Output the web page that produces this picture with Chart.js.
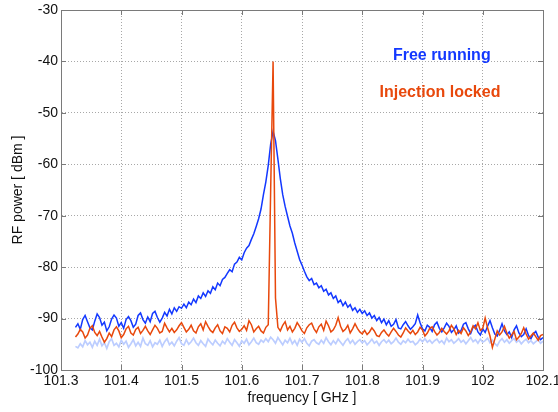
<!DOCTYPE html>
<html>
<head>
<meta charset="utf-8">
<script src="https://cdn.jsdelivr.net/npm/chart.js@4.4.1/dist/chart.umd.min.js"></script>
<style>
  body{margin:0;background:#fff}
  #wrap{width:558px;height:412px}
</style>
</head>
<body>
<div id="wrap"><canvas id="spectrum" width="558" height="412"></canvas></div>
<script>
// spectrum analyser sweep, one sample every 4 MHz from 101.324 GHz
var freqStart = 101.324
var freqStep = 0.004

var xTicks = [101.3, 101.4, 101.5, 101.6, 101.7, 101.8, 101.9, 102, 102.1]
var xTickLabels = ['101.3', '101.4', '101.5', '101.6', '101.7', '101.8', '101.9', '102', '102.1']
var yTicks = [-100, -90, -80, -70, -60, -50, -40, -30]

// free running (dBm)
var freeRunning = [
  -91.7, -91.0, -92.1, -90.2, -89.4, -90.6, -91.8, -92.2, -90.5, -89.1,
  -89.8, -91.3, -90.7, -92.4, -91.6, -90.1, -89.3, -89.9, -91.5, -90.8,
  -91.9, -90.2, -89.6, -90.4, -91.7, -91.1, -89.4, -88.9, -90.2, -90.9,
  -89.7, -90.6, -89.0, -88.6, -89.8, -90.7, -89.9, -88.8, -89.5, -88.2,
  -89.1, -87.9, -88.6, -87.7, -88.0, -87.2, -87.9, -86.8, -87.3, -86.2,
  -86.9, -85.6, -86.1, -85.0, -85.7, -84.6, -85.1, -83.8, -84.4, -83.1,
  -83.6, -82.4, -82.0, -81.2, -80.5, -80.9, -79.4, -79.0, -78.1, -78.6,
  -77.2, -76.3, -75.8, -74.6, -73.5, -72.1, -70.6, -68.7, -65.9, -63.4,
  -60.2, -56.1, -53.6, -55.4, -59.0, -62.8, -65.9, -68.2, -70.1, -72.0,
  -73.4, -75.3, -76.9, -78.5, -79.6, -80.8, -81.9, -82.6, -82.2, -83.4,
  -83.1, -84.0, -83.6, -84.7, -84.3, -85.4, -85.0, -86.1, -85.6, -86.9,
  -86.4, -87.5, -86.8, -87.8, -87.3, -88.4, -87.9, -88.8, -88.2, -89.0,
  -88.5, -89.4, -88.9, -89.9, -89.4, -90.4, -89.8, -90.8, -90.1, -91.2,
  -90.4, -91.5, -91.1, -90.2, -91.8, -92.0, -91.2, -90.6, -91.4, -92.1,
  -91.6, -91.0, -89.3, -90.8, -92.0, -92.4, -91.3, -91.7, -92.5, -91.2,
  -90.7, -91.9, -92.6, -91.8, -90.9, -91.5, -92.7, -92.2, -91.4, -92.8,
  -92.3, -91.1, -90.8, -92.0, -92.9, -91.7, -91.3, -92.6, -93.2, -92.0,
  -92.7, -91.5, -90.4, -91.8, -93.0, -93.4, -92.3, -91.0, -92.4, -93.1,
  -92.6, -93.7, -92.2, -91.4, -92.8, -93.5, -93.1, -92.0, -93.3, -93.9,
  -93.0, -92.5, -93.6, -94.1, -93.7
]

// injection locked (dBm)
var injectionLocked = [
  -93.6, -93.0, -92.1, -92.6, -93.8, -93.2, -91.9, -91.4, -92.7, -93.3,
  -92.5, -93.6, -94.6, -93.9, -92.8, -93.5, -92.2, -91.6, -92.4, -93.7,
  -93.1, -92.0, -91.5, -92.8, -93.2, -92.1, -91.7, -92.9, -92.3, -91.5,
  -92.4, -93.1, -92.2, -91.3, -91.9, -92.8, -92.5, -90.9, -91.8, -92.6,
  -91.9, -92.7, -92.2, -91.4, -90.8, -91.7, -92.6, -92.1, -91.3, -92.4,
  -92.8, -91.6, -91.0, -92.2, -90.6, -91.5, -92.3, -92.7, -91.8, -91.2,
  -92.4, -92.9, -91.6, -91.9, -92.6, -91.3, -90.7, -91.8, -92.5, -92.1,
  -91.4, -92.3, -90.4, -91.2, -92.6, -92.0, -91.5, -92.4, -92.8, -91.7,
  -91.2, -65.0, -40.0, -86.0, -91.7, -92.4, -91.3, -90.6, -92.2, -91.5,
  -92.6, -91.9, -90.8, -91.5, -92.4, -92.9, -91.8, -91.2, -90.9, -92.0,
  -92.7, -91.6, -91.1, -92.3, -90.5, -91.4, -92.6, -92.2, -91.3, -89.8,
  -91.5, -92.5, -92.1, -91.3, -92.8, -92.0, -91.0, -91.9, -92.6, -93.0,
  -92.3, -93.1, -92.6, -91.8, -92.4, -93.3, -93.5, -92.7, -92.2, -92.9,
  -93.4, -92.6, -91.9, -92.5, -93.2, -93.6, -92.8, -91.8, -92.4, -92.9,
  -92.3, -93.1, -92.6, -91.7, -92.2, -93.4, -92.8, -91.9, -91.6, -92.5,
  -93.2, -92.7, -91.9, -92.5, -93.0, -92.4, -91.3, -92.0, -93.1, -92.3,
  -92.9, -91.8, -92.4, -93.3, -92.6, -91.4, -92.0, -90.8, -92.3, -91.9,
  -89.9, -91.8, -93.4, -95.6, -94.0, -92.4, -93.2, -92.6, -91.5, -92.8,
  -93.8, -93.2, -92.5, -94.1, -93.6, -92.9, -91.8, -93.0, -94.0, -93.4,
  -92.8, -93.5, -94.2, -93.3, -93.1
]

// noise floor (dBm)
var noiseFloor = [
  -95.4, -95.7, -94.9, -95.5, -94.3, -95.1, -94.6, -95.6, -94.4, -95.2,
  -94.0, -95.3, -94.7, -95.8, -94.5, -93.9, -95.2, -94.8, -95.5, -94.2,
  -95.0, -94.4, -95.6, -94.9, -94.1, -95.3, -94.6, -95.4, -93.8, -94.9,
  -95.2, -94.3, -95.5, -94.7, -95.0, -94.2, -95.4, -94.5, -93.9, -95.1,
  -94.6, -95.3, -94.4, -93.7, -94.9, -95.2, -94.1, -95.0, -94.5, -93.8,
  -94.7, -95.2, -94.3, -94.9, -95.4, -94.0, -94.6, -95.1, -94.2, -94.8,
  -95.3, -94.4, -94.9, -93.9, -94.6, -95.2, -94.1, -94.7, -95.4, -94.3,
  -94.8, -94.0, -95.1, -94.5, -93.8, -94.7, -95.0, -94.2, -94.6, -93.9,
  -94.5, -93.6, -94.1, -94.8, -93.7, -94.4, -95.1, -94.2, -94.7, -93.8,
  -94.9, -94.3, -95.2, -94.0, -94.6, -93.9, -94.8, -95.3, -94.4, -94.1,
  -94.7, -95.0, -94.2, -94.8, -93.7, -94.5, -95.1, -94.3, -94.9, -94.0,
  -94.6, -95.2, -94.4, -93.9, -94.8, -94.2, -95.0, -94.5, -94.1, -94.7,
  -94.3, -95.1, -94.6, -94.0, -94.8, -94.4, -95.2, -94.5, -94.1, -94.7,
  -94.2, -94.9, -94.5, -93.8, -94.6, -95.0, -94.3, -94.7, -94.0, -94.6,
  -94.4, -95.1, -94.7, -94.0, -94.5, -93.9, -94.6, -94.2, -94.8, -94.3,
  -94.0, -94.7, -94.3, -94.9, -93.8, -94.5, -94.1, -94.8, -94.4, -93.9,
  -94.6, -94.2, -94.9, -94.3, -93.7, -94.5, -94.1, -94.8, -94.0, -94.6,
  -94.3, -93.8, -94.7, -94.2, -94.9, -95.3, -94.4, -93.9, -94.6, -94.1,
  -94.8, -94.3, -93.9, -94.6, -94.2, -94.9, -94.4, -94.0, -94.7, -94.3,
  -94.9, -94.5, -94.1, -94.8, -94.4
]

var freeColor = '#1338ff'
var lockedColor = '#e8480c'
var floorColor = '#bccdff'
var axisColor = '#7a7a7a'
var fontFamily = '"Liberation Sans", Arial, Helvetica, sans-serif'

// text labels inside the plot, in data coordinates
var labels = [
  {text: 'Free running', freq: 101.932, dbm: -38.8, color: freeColor},
  {text: 'Injection locked', freq: 101.929, dbm: -46.1, color: lockedColor}
]

var toPoints = function(values){
  return values.map(function(v, i){
    return {x: +(freqStart + i * freqStep).toFixed(3), y: v}
  })
}

// matlab style box with inward tick marks, plus the two text labels
var framePlugin = {
  id: 'frame',
  afterDatasetsDraw: function(chart){
    var ctx = chart.ctx
    var a = chart.chartArea
    var xs = chart.scales.x
    var ys = chart.scales.y
    ctx.save()
    ctx.strokeStyle = axisColor
    ctx.lineWidth = 1
    ctx.strokeRect(a.left + 0.5, a.top + 0.5, a.right - a.left, a.bottom - a.top)
    ctx.beginPath()
    xTicks.forEach(function(v){
      var px = Math.round(xs.getPixelForValue(v)) + 0.5
      ctx.moveTo(px, a.bottom); ctx.lineTo(px, a.bottom - 5)
      ctx.moveTo(px, a.top); ctx.lineTo(px, a.top + 5)
    })
    yTicks.forEach(function(v){
      var py = Math.round(ys.getPixelForValue(v)) + 0.5
      ctx.moveTo(a.left, py); ctx.lineTo(a.left + 5, py)
      ctx.moveTo(a.right, py); ctx.lineTo(a.right - 5, py)
    })
    ctx.stroke()
    ctx.font = 'bold 16px ' + fontFamily
    ctx.textAlign = 'center'
    ctx.textBaseline = 'middle'
    labels.forEach(function(l){
      ctx.fillStyle = l.color
      ctx.fillText(l.text, xs.getPixelForValue(l.freq), ys.getPixelForValue(l.dbm))
    })
    ctx.restore()
  }
}

var tickFont = {family: fontFamily, size: 14}

new Chart(document.getElementById('spectrum'), {
  type: 'line',
  data: {
    datasets: [
      {
        label: 'Injection locked',
        data: toPoints(injectionLocked),
        borderColor: lockedColor,
        borderWidth: 1.5
      },
      {
        label: 'Free running',
        data: toPoints(freeRunning),
        borderColor: freeColor,
        borderWidth: 1.5
      },
      {
        label: 'Noise floor',
        data: toPoints(noiseFloor),
        borderColor: floorColor,
        borderWidth: 1.7
      }
    ]
  },
  options: {
    responsive: false,
    animation: false,
    events: [],
    elements: {point: {radius: 0}, line: {tension: 0}},
    layout: {padding: {top: 10, right: 15, left: 0, bottom: 0}},
    plugins: {legend: {display: false}, tooltip: {enabled: false}},
    scales: {
      x: {
        type: 'linear',
        min: 101.3,
        max: 102.1,
        afterBuildTicks: function(s){
          s.ticks = xTicks.map(function(v){ return {value: v} })
        },
        afterFit: function(s){
          s.height = 42
          s.paddingLeft = 0
          s.paddingRight = 0
        },
        ticks: {
          font: tickFont,
          color: '#111',
          padding: 3,
          maxRotation: 0,
          autoSkip: false,
          callback: function(v, i){ return xTickLabels[i] }
        },
        grid: {color: '#a8a8a8', drawTicks: false},
        border: {color: axisColor, dash: [1, 2]},
        title: {
          display: true,
          text: 'frequency [ GHz ]',
          font: tickFont,
          color: '#111',
          padding: {top: 0, bottom: 5}
        }
      },
      y: {
        min: -100,
        max: -30,
        afterBuildTicks: function(s){
          s.ticks = yTicks.map(function(v){ return {value: v} })
        },
        afterFit: function(s){
          s.width = 61
          s.paddingTop = 0
          s.paddingBottom = 0
        },
        ticks: {font: tickFont, color: '#111', padding: 3},
        grid: {color: '#a8a8a8', drawTicks: false},
        border: {color: axisColor, dash: [1, 2]},
        title: {
          display: true,
          text: 'RF power [ dBm ]',
          font: tickFont,
          color: '#111',
          padding: {top: 10, bottom: 0}
        }
      }
    }
  },
  plugins: [framePlugin]
})
</script>
</body>
</html>
